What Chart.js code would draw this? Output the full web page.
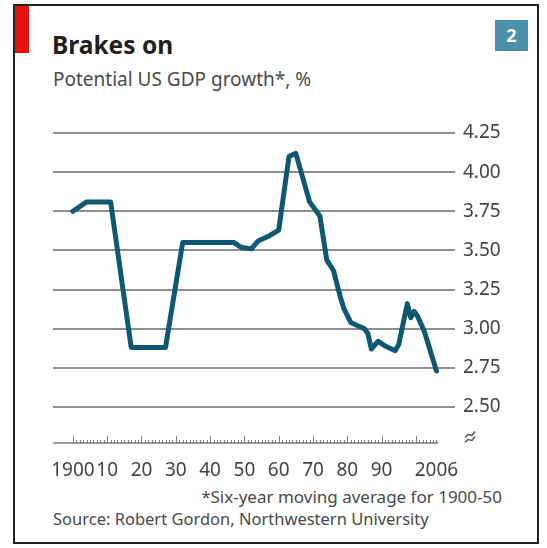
<!DOCTYPE html>
<html>
<head>
<meta charset="utf-8">
<script src="https://cdn.jsdelivr.net/npm/chart.js@4.4.1/dist/chart.umd.min.js"></script>
<style>
  html, body { margin: 0; padding: 0; background: #fff; }
  body { width: 547px; height: 548px; position: relative; overflow: hidden; font-family: "Noto Sans", sans-serif; }
  #frame { position: absolute; left: 13px; top: 4px; width: 526px; height: 540px; border: 2px solid #222; box-sizing: border-box; }
  #redbar { position: absolute; left: 15px; top: 6px; width: 14px; height: 47px; background: #e3120b; }
  #num { position: absolute; left: 495px; top: 20px; width: 33px; height: 31px; background: #4a8ea8; color: #fff;
         font: bold 18px "Noto Sans", sans-serif; line-height: 31px; text-align: center; }
  .txt { position: absolute; white-space: nowrap; line-height: 1; }
  #title { left: 52px; top: 33px; font-size: 24.5px; font-weight: bold; color: #231f20; }
  #sub { left: 53px; top: 70px; font-size: 19px; color: #4a4a4a; }
  #note { right: 45px; top: 488px; font-size: 17px; color: #4a4a4a; }
  #src { left: 53px; top: 511px; font-size: 16.5px; color: #4a4a4a; }
  canvas { position: absolute; left: 0; top: 0; }
</style>
</head>
<body>
<div id="frame"></div>
<div id="redbar"></div>
<div id="num">2</div>
<div class="txt" id="title">Brakes on</div>
<div class="txt" id="sub">Potential US GDP growth*, %</div>
<div class="txt" id="note">*Six-year moving average for 1900-50</div>
<div class="txt" id="src">Source: Robert Gordon, Northwestern University</div>
<canvas id="chart" width="547" height="548"></canvas>
<script>
// data
const years = [1900, 1904, 1911, 1917, 1927, 1932, 1947, 1949, 1952, 1954, 1957, 1960, 1963, 1965,
  1969, 1972, 1974, 1976, 1978, 1979, 1981, 1985, 1986, 1987, 1989, 1991, 1994, 1995,
  1997.5, 1998.5, 1999.5, 2000.5, 2002.5, 2006];
const growth = [3.75, 3.81, 3.81, 2.88, 2.88, 3.55, 3.55, 3.52, 3.51, 3.56, 3.59, 3.63, 4.10, 4.12,
  3.81, 3.72, 3.44, 3.37, 3.20, 3.13, 3.04, 3.00, 2.97, 2.87, 2.92, 2.89, 2.86, 2.90,
  3.16, 3.07, 3.11, 3.08, 2.98, 2.73];
const yTicks = [2.50, 2.75, 3.00, 3.25, 3.50, 3.75, 4.00, 4.25];
const xTicks = [1900, 1910, 1920, 1930, 1940, 1950, 1960, 1970, 1980, 1990, 2006];
const xLabels = ['1900', '10', '20', '30', '40', '50', '60', '70', '80', '90', '2006'];

const labelFont = { family: 'Noto Sans', size: 19 };

// x axis line with yearly ticks pointing up, plus the axis break mark
const axisPlugin = {
  id: 'axisTicks',
  afterDraw(chart) {
    const { ctx, chartArea } = chart;
    const xs = chart.scales.x;
    const y0 = chartArea.bottom;
    ctx.save();
    ctx.strokeStyle = '#7a7a7a';
    ctx.lineWidth = 1.5;
    ctx.beginPath();
    ctx.moveTo(chartArea.left, y0);
    ctx.lineTo(xs.getPixelForValue(2006.5), y0);
    ctx.stroke();
    ctx.lineWidth = 1;
    ctx.beginPath();
    for (let yr = 1900; yr <= 2006; yr++) {
      const px = Math.round(xs.getPixelForValue(yr)) + 0.5;
      const h = yr % 10 === 0 ? 7 : 3;
      ctx.moveTo(px, y0);
      ctx.lineTo(px, y0 - h);
    }
    ctx.stroke();
    // break mark
    const bx = chartArea.right + 15, by = y0 - 6;
    ctx.strokeStyle = '#555';
    ctx.lineWidth = 1.5;
    for (const d of [-2.5, 2.5]) {
      ctx.beginPath();
      ctx.moveTo(bx - 5, by + 3 + d);
      ctx.lineTo(bx - 2, by + d);
      ctx.lineTo(bx + 2, by + 1 + d);
      ctx.lineTo(bx + 5, by - 3 + d);
      ctx.stroke();
    }
    ctx.restore();
  }
};

new Chart(document.getElementById('chart').getContext('2d'), {
  type: 'line',
  data: {
    datasets: [{
      data: years.map((yr, i) => ({ x: yr, y: growth[i] })),
      borderColor: '#0f5873',
      borderWidth: 5,
      pointRadius: 0,
      tension: 0,
      borderJoinStyle: 'round',
      borderCapStyle: 'round',
      clip: false
    }]
  },
  options: {
    responsive: false,
    devicePixelRatio: 1,
    animation: false,
    layout: { padding: { left: 53, top: 133, right: 0, bottom: 60 } },
    plugins: { legend: { display: false }, tooltip: { enabled: false } },
    scales: {
      x: {
        type: 'linear',
        min: 1894.2,
        max: 2011.4,
        afterBuildTicks: s => { s.ticks = xTicks.map(v => ({ value: v })); },
        afterFit: s => { s.height = 45; },
        grid: { display: false, drawTicks: false },
        border: { display: false },
        ticks: {
          autoSkip: false,
          maxRotation: 0,
          padding: 16,
          color: '#444',
          font: labelFont,
          callback: v => xLabels[xTicks.indexOf(v)]
        }
      },
      y: {
        position: 'right',
        min: 2.27,
        max: 4.25,
        afterBuildTicks: s => { s.ticks = yTicks.map(v => ({ value: v })); },
        afterFit: s => { s.width = 92; },
        grid: { color: '#8e8e8e', lineWidth: 2, drawTicks: false },
        border: { display: false },
        ticks: {
          padding: 8,
          color: '#444',
          font: labelFont,
          callback: v => v.toFixed(2)
        }
      }
    }
  },
  plugins: [axisPlugin]
});
</script>
</body>
</html>
